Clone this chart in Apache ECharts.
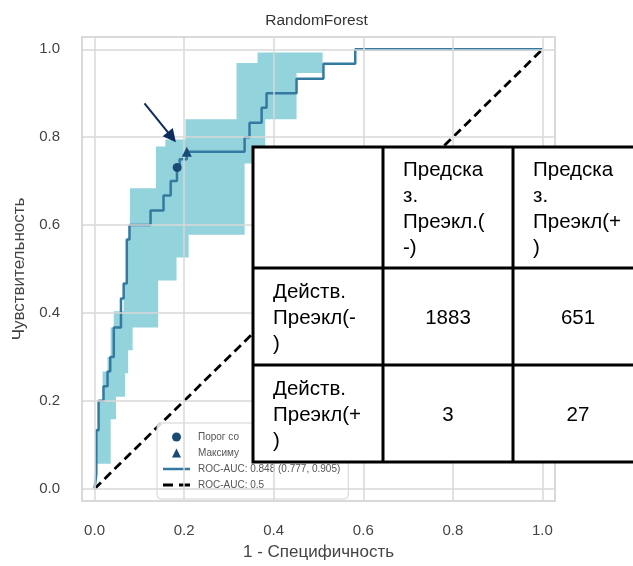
<!DOCTYPE html>
<html><head><meta charset="utf-8">
<script src="https://cdn.jsdelivr.net/npm/echarts@6/dist/echarts.min.js"></script>
<style>html,body{margin:0;padding:0;background:#fff}#c{width:633px;height:566px}</style>
</head><body><div id="c"></div>
<script>
// ---- data ----
const ticks = [0, 0.2, 0.4, 0.6, 0.8, 1.0];
const rocCurve = [
  [0,0],[0.004,0.033],[0.004,0.133],[0.009,0.133],[0.009,0.2],[0.02,0.2],[0.02,0.233],
  [0.029,0.233],[0.029,0.267],[0.035,0.267],[0.035,0.3],[0.043,0.3],[0.043,0.367],
  [0.059,0.367],[0.059,0.433],[0.065,0.433],[0.065,0.467],[0.072,0.467],[0.072,0.567],
  [0.078,0.567],[0.078,0.6],[0.125,0.6],[0.125,0.633],[0.154,0.633],[0.154,0.667],
  [0.17,0.667],[0.17,0.7],[0.184,0.7],[0.184,0.733],[0.19,0.733],[0.19,0.75],
  [0.206,0.75],[0.206,0.767],[0.335,0.767],[0.335,0.8],[0.346,0.8],[0.346,0.833],
  [0.373,0.833],[0.373,0.867],[0.384,0.867],[0.384,0.9],[0.451,0.9],[0.451,0.933],
  [0.511,0.933],[0.511,0.967],[0.582,0.967],[0.582,1.0],[1.0,1.0]
];
const bandUpper = [
  [0.004,0.057],[0.004,0.133],[0.009,0.133],[0.009,0.2],[0.018,0.2],[0.018,0.267],
  [0.029,0.267],[0.029,0.3],[0.036,0.3],[0.036,0.367],[0.043,0.367],[0.043,0.404],
  [0.065,0.404],[0.065,0.467],[0.072,0.467],[0.072,0.567],[0.079,0.567],[0.079,0.684],
  [0.137,0.684],[0.137,0.779],[0.158,0.779],[0.158,0.795],[0.203,0.795],[0.203,0.841],
  [0.317,0.841],[0.317,0.969],[0.364,0.969],[0.364,0.993],[0.509,0.993]
];
const bandLower = [
  [0.004,0.057],[0.036,0.057],[0.036,0.158],[0.048,0.158],[0.048,0.209],[0.068,0.209],
  [0.068,0.263],[0.075,0.263],[0.075,0.315],[0.085,0.315],[0.085,0.367],[0.142,0.367],
  [0.142,0.474],[0.183,0.474],[0.183,0.526],[0.21,0.526],[0.21,0.578],[0.335,0.578],
  [0.335,0.74],[0.381,0.74],[0.381,0.841],[0.451,0.841],[0.451,0.946],[0.509,0.946],
  [0.509,0.993]
];
const thresholdPoint = [[0.1845, 0.731]];
const maxPoint = [[0.206, 0.767]];
const diagonal = [[0,0],[1,1]];
const arrowFrom = [0.1115, 0.877];
const arrowTo = [0.1725, 0.800];
const legendNames = ['Порог со', 'Максиму', 'ROC-AUC: 0.848 (0.777, 0.905)', 'ROC-AUC: 0.5'];
const tableColHeaders = ['Предска\nз.\nПреэкл.(\n-)', 'Предска\nз.\nПреэкл(+\n)'];
const tableRowHeaders = ['Действ.\nПреэкл(-\n)', 'Действ.\nПреэкл(+\n)'];
const tableValues = [[1883, 651], [3, 27]];

// ---- chart ----
const FONT = '"Liberation Sans", Arial, sans-serif';
const chart = echarts.init(document.getElementById('c'), null, {renderer: 'canvas'});
const bandPolygon = bandUpper.concat(bandLower.slice().reverse());

// table geometry (pixels)
const T = {x: 253, y: 147, cols: [253, 383, 513, 643], rows: [147, 268, 365, 462]};
const graphics = [];
graphics.push({type: 'rect', z: 100, shape: {x: T.x, y: T.y, width: T.cols[3] - T.x, height: T.rows[3] - T.y},
  style: {fill: '#fff', stroke: '#000', lineWidth: 3}});
[T.cols[1], T.cols[2]].forEach(cx => graphics.push({type: 'line', z: 101,
  shape: {x1: cx, y1: T.rows[0], x2: cx, y2: T.rows[3]}, style: {stroke: '#000', lineWidth: 3}}));
[T.rows[1], T.rows[2]].forEach(ry => graphics.push({type: 'line', z: 101,
  shape: {x1: T.cols[0], y1: ry, x2: T.cols[3], y2: ry}, style: {stroke: '#000', lineWidth: 3}}));
function txt(s, x, y, align) {
  return {type: 'text', z: 102, style: {text: s, x: x, y: y, fill: '#000', fontSize: 20.5, fontFamily: FONT,
    lineHeight: 26, align: align, verticalAlign: 'middle'}};
}
tableColHeaders.forEach((s, i) => graphics.push(txt(s, T.cols[i + 1] + 20, (T.rows[0] + T.rows[1]) / 2 + 2, 'left')));
tableRowHeaders.forEach((s, r) => {
  const cy = (T.rows[r + 1] + T.rows[r + 2]) / 2 + 2;
  graphics.push(txt(s, T.cols[0] + 20, cy, 'left'));
  tableValues[r].forEach((v, c) => graphics.push(txt(String(v), (T.cols[c + 1] + T.cols[c + 2]) / 2, cy, 'center')));
});

const axisCommon = {
  type: 'value', min: -0.028, max: 1.028,
  axisLine: {show: false}, axisTick: {show: false}, splitLine: {show: false},
  nameLocation: 'middle',
  nameTextStyle: {fontSize: 17, color: '#444', fontFamily: FONT}
};

chart.setOption({
  animation: false,
  backgroundColor: '#fff',
  title: {text: 'RandomForest', left: 'center', top: 8,
    textStyle: {fontSize: 15.5, fontWeight: 'normal', color: '#333', fontFamily: FONT}},
  grid: {left: 82, right: 78, top: 37, bottom: 59, show: true, borderColor: '#d9d9d9', borderWidth: 2, backgroundColor: '#fff'},
  xAxis: Object.assign({}, axisCommon, {
    name: '1 - Специфичность', nameGap: 43,
    axisLabel: {customValues: ticks, formatter: v => v.toFixed(1), margin: 22, fontSize: 15, color: '#444', fontFamily: FONT}
  }),
  yAxis: Object.assign({}, axisCommon, {
    name: 'Чувствительность', nameGap: 50,
    axisLabel: {customValues: ticks, formatter: v => v.toFixed(1), margin: 22, fontSize: 15, color: '#444', fontFamily: FONT}
  }),
  legend: {
    left: 157, top: 423, orient: 'vertical', padding: [6, 8, 6, 6],
    itemWidth: 27, itemHeight: 9, itemGap: 0, selectedMode: false, symbolKeepAspect: true,
    backgroundColor: 'rgba(255,255,255,0.85)', borderColor: '#d3d3d3', borderWidth: 1, borderRadius: 4,
    textStyle: {fontSize: 10, color: '#555', lineHeight: 16, fontFamily: FONT, padding: [0, 0, 0, 3]},
    data: [
      {name: legendNames[0], icon: 'path://M13.5,0a4.5,4.5 0 1,0 0.001,0z'},
      {name: legendNames[1], icon: 'path://M13.5,0L18,9L9,9Z'},
      {name: legendNames[2], icon: 'path://M0,0h27v2.5h-27z'},
      {name: legendNames[3], icon: 'path://M0,0h10v2.8h-10zM16,0h11v2.8h-11z'}
    ]
  },
  graphic: graphics,
  series: [
    {
      type: 'line', name: 'grid', data: [], z: 0, silent: true,
      markLine: {silent: true, symbol: ['none', 'none'], label: {show: false}, animation: false,
        lineStyle: {color: '#d9d9d9', width: 1.5, type: 'solid'},
        data: ticks.map(t => ({xAxis: t})).concat(ticks.map(t => ({yAxis: t})))}
    },
    {
      type: 'custom', name: 'band', silent: true, z: 1,
      data: bandPolygon,
      renderItem: function (params, api) {
        if (params.dataIndex !== 0) return null;
        const pts = bandPolygon.map(p => api.coord(p));
        return {type: 'polygon', shape: {points: pts}, style: {fill: 'rgba(37,167,185,0.5)'}};
      }
    },
    {
      type: 'line', name: legendNames[3], data: diagonal, symbol: 'none', z: 3,
      lineStyle: {color: '#000', width: 2.8, type: [9, 5]}, itemStyle: {color: '#000'}
    },
    {
      type: 'line', name: legendNames[2], data: rocCurve, symbol: 'none', z: 4,
      lineStyle: {color: '#3479a0', width: 2.5}, itemStyle: {color: '#3479a0'}
    },
    {
      type: 'scatter', name: legendNames[0], data: thresholdPoint, symbol: 'circle', symbolSize: 9, z: 5,
      itemStyle: {color: '#1b4a75', opacity: 1}
    },
    {
      type: 'scatter', name: legendNames[1], data: maxPoint, symbol: 'triangle', symbolSize: 10, z: 5,
      itemStyle: {color: '#1b4a75', opacity: 1}
    },
    {
      type: 'line', name: 'arrow', data: [], z: 6, silent: true,
      markLine: {silent: true, symbol: ['none', 'triangle'], symbolSize: 13, label: {show: false}, animation: false,
        lineStyle: {color: '#0d2b5e', width: 2, type: 'solid'}, itemStyle: {color: '#0d2b5e'},
        data: [[{coord: arrowFrom}, {coord: arrowTo}]]}
    }
  ]
});
</script></body></html>
